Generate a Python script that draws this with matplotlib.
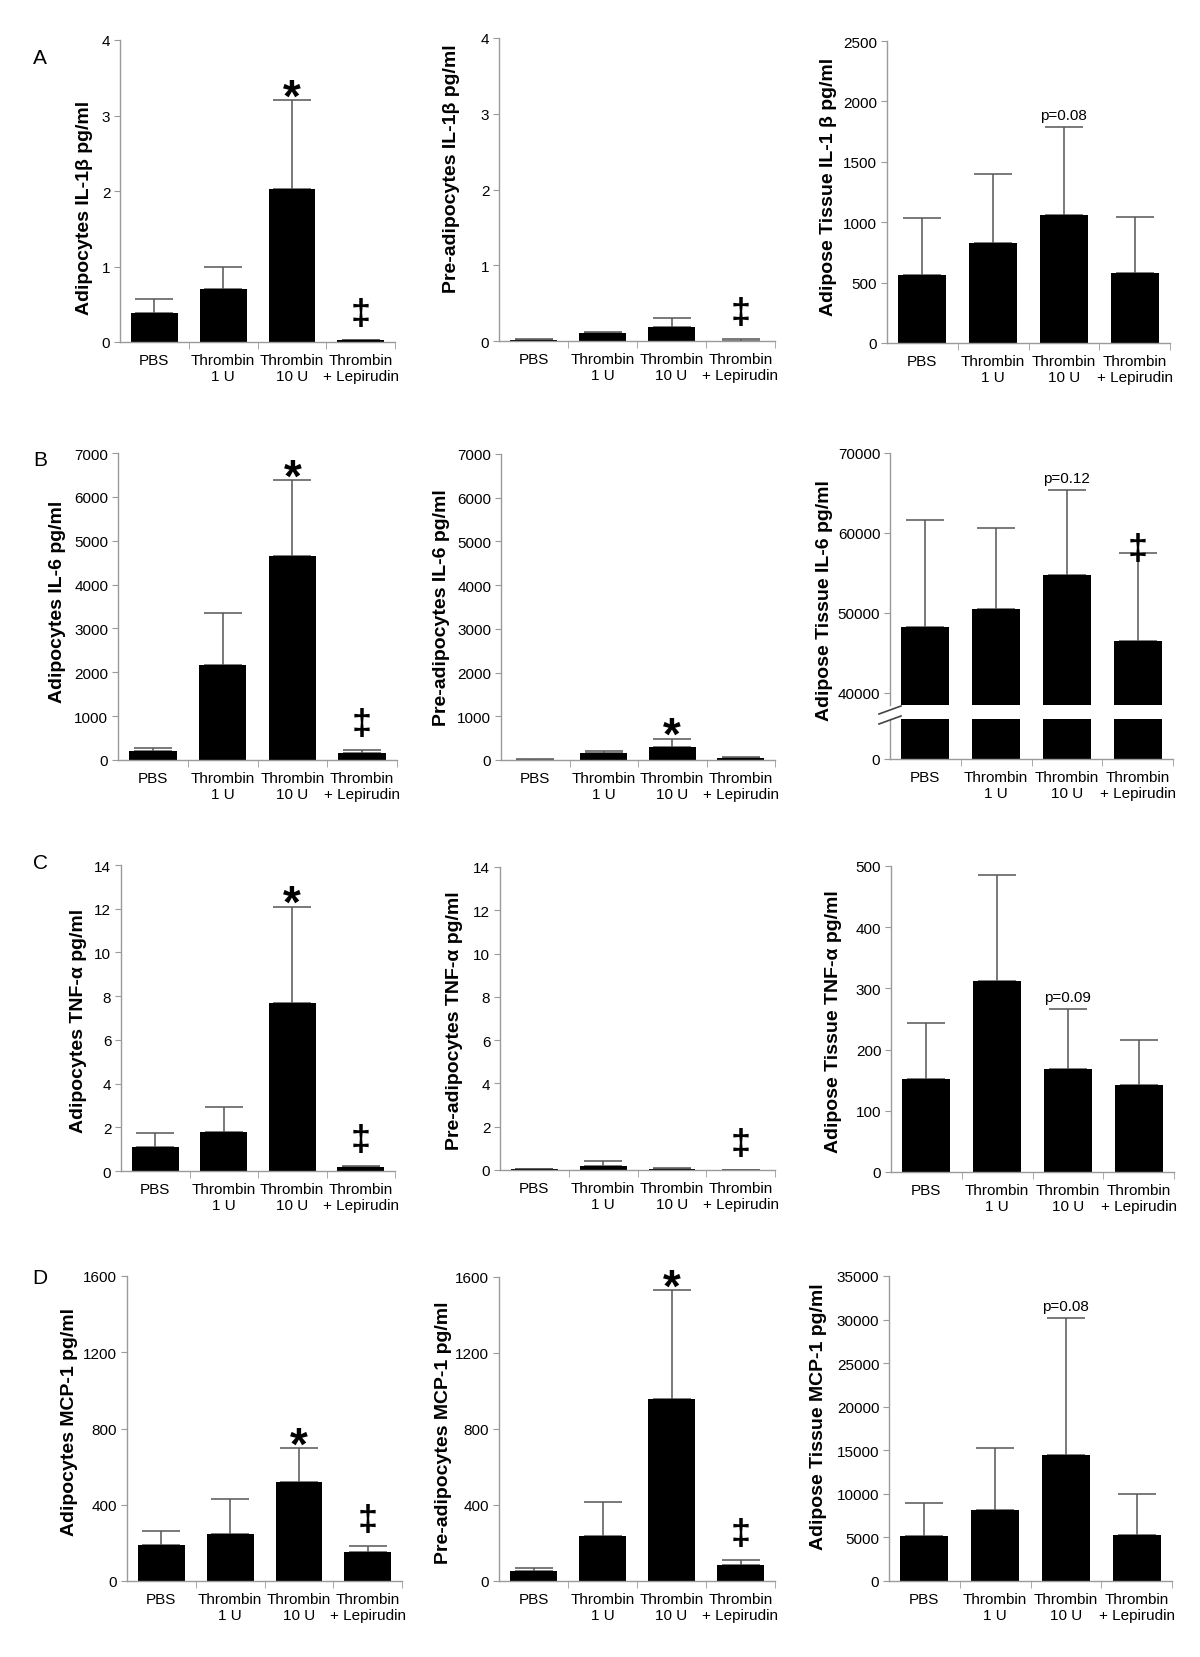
import numpy as np
import matplotlib
matplotlib.use("Agg")
import matplotlib.pyplot as plt
from matplotlib.lines import Line2D

plt.rcParams["font.family"] = ["Liberation Sans", "DejaVu Sans"]

W, H = 1200, 1658
AXIS_COLOR = "#9a9a9a"
ERR_COLOR = "#555555"

GROUPS = ["PBS", "Thrombin\n1 U", "Thrombin\n10 U", "Thrombin\n+ Lepirudin"]

# means and upper error bars
il1b_adipo = [0.39, 0.70, 2.02, 0.03]
il1b_adipo_err = [0.18, 0.30, 1.18, 0.0]
il1b_pre = [0.01, 0.10, 0.19, 0.0]
il1b_pre_err = [0.02, 0.02, 0.11, 0.03]
il1b_tissue = [564, 831, 1063, 578]
il1b_tissue_err = [468, 568, 727, 463]

il6_adipo = [205, 2176, 4649, 167]
il6_adipo_err = [77, 1179, 1727, 61]
il6_pre = [5, 152, 290, 38]
il6_pre_err = [15, 61, 190, 38]
il6_tissue = [48264, 50496, 54711, 46529]
il6_tissue_err = [13306, 10084, 10702, 10950]

tnf_adipo = [1.11, 1.80, 7.69, 0.18]
tnf_adipo_err = [0.62, 1.15, 4.41, 0.05]
tnf_pre = [0.03, 0.20, 0.05, 0.01]
tnf_pre_err = [0.0, 0.20, 0.02, 0.01]
tnf_tissue = [152, 312, 168, 142]
tnf_tissue_err = [91, 174, 98, 73]

mcp1_adipo = [189, 249, 519, 151]
mcp1_adipo_err = [74, 180, 177, 33]
mcp1_pre = [51, 239, 960, 86]
mcp1_pre_err = [19, 177, 570, 23]
mcp1_tissue = [5137, 8165, 14490, 5252]
mcp1_tissue_err = [3757, 7092, 15641, 4677]

# (group index, text) annotations
marks_star_dag = [(2, "*"), (3, "‡")]

panels = [
    dict(ylabel="Adipocytes IL-1β pg/ml", m=il1b_adipo, e=il1b_adipo_err, ymax=4, step=1,
         marks=marks_star_dag, box=(120, 41, 395, 343), lab=(93, 208)),
    dict(ylabel="Pre-adipocytes IL-1β pg/ml", m=il1b_pre, e=il1b_pre_err, ymax=4, step=1,
         marks=[(3, "‡")], box=(499, 39, 775, 342), lab=(460, 169)),
    dict(ylabel="Adipose Tissue IL-1 β pg/ml", m=il1b_tissue, e=il1b_tissue_err, ymax=2500, step=500,
         marks=[(2, "p=0.08")], box=(887, 42, 1170, 344), lab=(837, 187)),
    dict(ylabel="Adipocytes IL-6 pg/ml", m=il6_adipo, e=il6_adipo_err, ymax=7000, step=1000,
         marks=marks_star_dag, box=(118, 454, 397, 761), lab=(66, 602)),
    dict(ylabel="Pre-adipocytes IL-6 pg/ml", m=il6_pre, e=il6_pre_err, ymax=7000, step=1000,
         marks=[(2, "*")], box=(501, 455, 775, 761), lab=(450, 608)),
    dict(ylabel="Adipose Tissue IL-6 pg/ml", m=il6_tissue, e=il6_tissue_err, ymax=70000, step=10000,
         marks=[(2, "p=0.12"), (3, "‡")], box=(890, 454, 1173, 760), lab=(833, 601),
         broken=(38500, 40000, 706, 720)),
    dict(ylabel="Adipocytes TNF-α pg/ml", m=tnf_adipo, e=tnf_adipo_err, ymax=14, step=2,
         marks=marks_star_dag, box=(121, 866, 395, 1172), lab=(87, 1021)),
    dict(ylabel="Pre-adipocytes TNF-α pg/ml", m=tnf_pre, e=tnf_pre_err, ymax=14, step=2,
         marks=[(3, "‡")], box=(500, 868, 775, 1171), lab=(463, 1021)),
    dict(ylabel="Adipose Tissue TNF-α pg/ml", m=tnf_tissue, e=tnf_tissue_err, ymax=500, step=100,
         marks=[(2, "p=0.09")], box=(891, 867, 1174, 1173), lab=(842, 1022)),
    dict(ylabel="Adipocytes MCP-1 pg/ml", m=mcp1_adipo, e=mcp1_adipo_err, ymax=1600, step=400,
         marks=marks_star_dag, box=(127, 1277, 402, 1582), lab=(78, 1422)),
    dict(ylabel="Pre-adipocytes MCP-1 pg/ml", m=mcp1_pre, e=mcp1_pre_err, ymax=1600, step=400,
         marks=marks_star_dag, box=(499, 1278, 775, 1582), lab=(452, 1433)),
    dict(ylabel="Adipose Tissue MCP-1 pg/ml", m=mcp1_tissue, e=mcp1_tissue_err, ymax=35000, step=5000,
         marks=[(2, "p=0.08")], box=(889, 1277, 1172, 1582), lab=(827, 1417)),
]

letters = [("A", 59), ("B", 461), ("C", 864), ("D", 1278)]


def px_box(l, t, r, b):
    return [l / W, 1 - b / H, (r - l) / W, (b - t) / H]


def base_style(ax):
    for s in ["top", "right"]:
        ax.spines[s].set_visible(False)
    for s in ["left", "bottom"]:
        ax.spines[s].set_color(AXIS_COLOR)
        ax.spines[s].set_linewidth(1.0)
    ax.set_xlim(-0.5, 3.5)
    ax.tick_params(axis="y", length=4, color=AXIS_COLOR, labelsize=11, pad=3)


def style_xaxis(ax):
    ax.set_xticks(range(len(GROUPS)))
    ax.set_xticklabels(GROUPS, fontsize=11)
    ax.tick_params(axis="x", which="major", length=0, pad=8)
    ax.set_xticks([0.5, 1.5, 2.5, 3.5], minor=True)
    ax.tick_params(axis="x", which="minor", length=5, color=AXIS_COLOR)


def draw_bars(ax, means, errs, with_err=True):
    x = np.arange(len(means))
    ax.bar(x, means, width=0.68, color="black", zorder=2)
    if with_err:
        ax.errorbar(x, means, yerr=[np.zeros(len(errs)), errs], fmt="none",
                    ecolor=ERR_COLOR, elinewidth=1.1, capsize=14, capthick=1.1, zorder=1)


def add_marks(ax, means, errs, marks, dag_shift=16):
    for i, txt in marks:
        top = means[i] + errs[i]
        if txt == "*":
            ax.annotate("*", (i, top), xytext=(0, -10), textcoords="offset pixels",
                        ha="center", va="baseline", fontsize=33, fontweight="bold")
        elif txt == "‡":
            ax.annotate("‡", (i, top), xytext=(0, dag_shift), textcoords="offset pixels",
                        ha="center", va="baseline", fontsize=26, fontweight="bold")
        else:
            ax.annotate(txt, (i, top), xytext=(0, 8), textcoords="offset pixels",
                        ha="center", va="baseline", fontsize=11)


fig = plt.figure(figsize=(W / 100, H / 100), dpi=100)

for p in panels:
    l, t, r, b = p["box"]
    ticks = np.arange(0, p["ymax"] + p["step"] / 2, p["step"])
    if "broken" in p:
        ylow, yfirst, cut_top, cut_bot = p["broken"]
        ax = fig.add_axes(px_box(l, t, r, cut_top))
        bot = fig.add_axes(px_box(l, cut_bot, r, b))
        base_style(ax)
        base_style(bot)
        ax.spines["bottom"].set_visible(False)
        ax.tick_params(axis="x", bottom=False, labelbottom=False)
        draw_bars(ax, p["m"], p["e"])
        ax.set_ylim(ylow, p["ymax"])
        upper = ticks[ticks >= yfirst]
        ax.set_yticks(upper, labels=[f"{v:g}" for v in upper])
        draw_bars(bot, p["m"], p["e"], with_err=False)
        bot.set_ylim(0, 5000)
        bot.set_yticks([0], labels=["0"])
        style_xaxis(bot)
        add_marks(ax, p["m"], p["e"], p["marks"], dag_shift=-6)
        # axis break marks
        for dy in (0, 10):
            fig.add_artist(Line2D([(l - 11) / W, (l + 11) / W],
                                  [1 - (715 + dy) / H, 1 - (707 + dy) / H],
                                  color="#444444", lw=1.2))
    else:
        ax = fig.add_axes(px_box(l, t, r, b))
        base_style(ax)
        draw_bars(ax, p["m"], p["e"])
        ax.set_ylim(0, p["ymax"])
        ax.set_yticks(ticks, labels=[f"{v:g}" for v in ticks])
        style_xaxis(ax)
        add_marks(ax, p["m"], p["e"], p["marks"])

    ax.set_ylabel(p["ylabel"], fontsize=14, fontweight="bold")
    lx, ly = p["lab"]
    ax.yaxis.set_label_coords(lx / W, 1 - ly / H, transform=fig.transFigure)

for letter, y in letters:
    fig.text(40 / W, 1 - y / H, letter, fontsize=15, ha="center", va="center")

fig.savefig("out.png", dpi=100)
